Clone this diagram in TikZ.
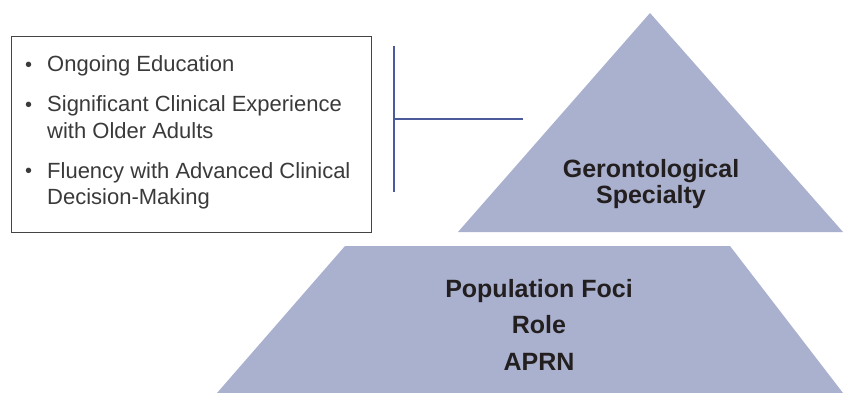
\documentclass[tikz,border=0pt]{standalone}
\usepackage{fontspec}
\setmainfont{Liberation Sans}
\definecolor{shapefill}{HTML}{AAB1CE}
\definecolor{linkblue}{HTML}{4B5A9B}
\definecolor{boxtext}{HTML}{3A3A3A}
\definecolor{boldtext}{HTML}{231F20}
\definecolor{boxline}{HTML}{444444}
\tikzset{
  shapearea/.style={fill=shapefill, draw=none},
  link/.style={draw=linkblue, line width=1.3pt},
  bullettext/.style={anchor=base west, inner sep=0pt, align=left, text=boxtext, font=\fontsize{22}{26.7}\selectfont},
  bulletmark/.style={anchor=base west, inner sep=0pt, text=boxtext, font=\fontsize{20}{24}\selectfont},
  tiertext/.style={anchor=base, inner sep=0pt, align=center, text=boldtext},
  listbox/.style={draw=boxline, line width=1.1pt, fill=none}
}
\begin{document}
\begin{tikzpicture}[x=1pt, y=-1pt]
\useasboundingbox (0,0) rectangle (854,393);
% shapes
\fill[shapearea] (650,13) -- (843,232) -- (458,232) -- cycle;
\fill[shapearea] (345,246) -- (730,246) -- (843,393) -- (217,393) -- cycle;
% box
\node[listbox, minimum width=360pt, minimum height=196pt, anchor=north west, inner sep=0pt] (box) at (11,36) {};
% bullets
\node[bulletmark] (b1) at (25,71.5) {\textbullet};
\node[bulletmark] (b2) at (25,111.5) {\textbullet};
\node[bulletmark] (b3) at (25,178) {\textbullet};
% multi-line nodes: base anchor = last line baseline
\node[bullettext] (t1) at (47,71.5) {Ongoing Education};
\node[bullettext] (t2) at (47,138.2) {Significant Clinical Experience\\with Older Adults};
\node[bullettext] (t3) at (47,204.7) {Fluency with Advanced Clinical\\Decision-Making};
% connector
\coordinate (vtop) at (394,46);
\coordinate (vbot) at (394,192);
\coordinate (hmid) at (394,119);
\coordinate (hend) at (523,119);
\draw[link] (vtop) -- (vbot);
\draw[link] (hmid) -- (hend);
% tier labels
\node[tiertext, font=\bfseries\fontsize{25}{26}\selectfont] (geron) at (651,203) {Gerontological\\Specialty};
\node[tiertext, font=\bfseries\fontsize{25}{36.5}\selectfont] (base) at (539,370) {Population Foci\\Role\\APRN};
\end{tikzpicture}
\end{document}
